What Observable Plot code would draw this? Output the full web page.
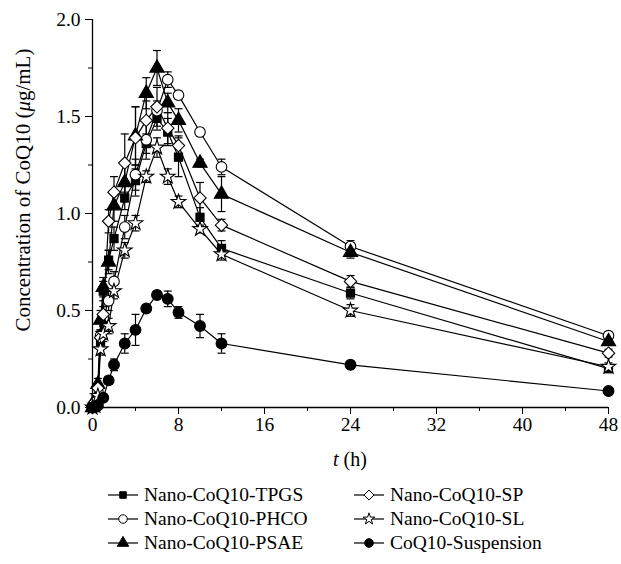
<!DOCTYPE html>
<html>
<head>
<meta charset="utf-8">
<script src="https://cdn.jsdelivr.net/npm/d3@7"></script>
<script src="https://cdn.jsdelivr.net/npm/@observablehq/plot@0.6"></script>
<style>
  body { margin: 0; background: white; }
  #wrap { width: 621px; font-family: "Liberation Serif", serif; color: black; }
  #legend { position: relative; width: 621px; height: 92px; font-size: 19.5px; }
  .item { position: absolute; display: flex; align-items: center; white-space: nowrap; }
  .item svg { margin-right: 6px; }
</style>
</head>
<body>
<div id="wrap"><div id="chart"></div><div id="legend"></div></div>
<script>
// ---- data ----
const timesNano = [0, 0.25, 0.5, 0.75, 1, 1.5, 2, 3, 4, 5, 6, 7, 8, 10, 12, 24, 48];
const timesSusp = [0, 0.25, 0.5, 1, 1.5, 2, 3, 4, 5, 6, 7, 8, 10, 12, 24, 48];

const tpgs   = [0, 0.02, 0.10, 0.34, 0.60, 0.76, 0.87, 1.08, 1.17, 1.36, 1.49, 1.42, 1.29, 0.98, 0.82, 0.59, 0.20];
const tpgsSd = [0, 0.01, 0.02, 0.03, 0.05, 0.05, 0.06, 0.06, 0.08, 0.05, 0.06, 0.07, 0.10, 0.05, 0.04, 0.03, 0.02];
const phco   = [0, 0.02, 0.08, 0.37, 0.46, 0.55, 0.65, 0.93, 1.20, 1.38, 1.53, 1.69, 1.61, 1.42, 1.24, 0.83, 0.37];
const phcoSd = [0, 0.01, 0.02, 0.03, 0.04, 0.05, 0.05, 0.06, 0.08, 0.10, 0.05, 0.04, 0.02, 0.02, 0.04, 0.03, 0.02];
const psae   = [0, 0.04, 0.12, 0.45, 0.62, 0.75, 1.04, 1.16, 1.40, 1.62, 1.75, 1.57, 1.48, 1.26, 1.10, 0.80, 0.34];
const psaeSd = [0, 0.02, 0.03, 0.05, 0.05, 0.06, 0.08, 0.10, 0.15, 0.08, 0.09, 0.05, 0.06, 0.02, 0.09, 0.03, 0.02];
const sp     = [0, 0.03, 0.10, 0.36, 0.48, 0.96, 1.11, 1.26, 1.39, 1.48, 1.55, 1.44, 1.35, 1.08, 0.94, 0.65, 0.28];
const spSd   = [0, 0.01, 0.02, 0.03, 0.04, 0.06, 0.08, 0.15, 0.16, 0.10, 0.10, 0.08, 0.05, 0.08, 0.03, 0.03, 0.02];
const sl     = [0, 0.01, 0.06, 0.30, 0.38, 0.42, 0.60, 0.81, 0.95, 1.19, 1.34, 1.19, 1.06, 0.92, 0.79, 0.50, 0.21];
const slSd   = [0, 0.01, 0.02, 0.03, 0.04, 0.04, 0.04, 0.04, 0.04, 0.03, 0.05, 0.04, 0.03, 0.02, 0.03, 0.03, 0.02];
const susp   = [0, 0.005, 0.01, 0.05, 0.14, 0.22, 0.33, 0.40, 0.51, 0.58, 0.56, 0.49, 0.42, 0.33, 0.22, 0.085];
const suspSd = [0, 0.003, 0.005, 0.01, 0.02, 0.03, 0.05, 0.08, 0.02, 0.02, 0.04, 0.03, 0.06, 0.05, 0.01, 0.01];

const seriesNames = ["Nano-CoQ10-TPGS", "Nano-CoQ10-PHCO", "Nano-CoQ10-PSAE", "Nano-CoQ10-SP", "Nano-CoQ10-SL", "CoQ10-Suspension"];
const xMajor = [0, 8, 16, 24, 32, 40, 48];
const xMinor = [4, 12, 20, 28, 36, 44];
const yMajor = [0, 0.5, 1.0, 1.5, 2.0];
const yMinor = [0.25, 0.75, 1.25, 1.75];

// ---- build table ----
const seriesDefs = [
  {name: seriesNames[0], t: timesNano, v: tpgs, sd: tpgsSd, symbol: d3.symbolSquare, fill: "black", r: 4.6},
  {name: seriesNames[1], t: timesNano, v: phco, sd: phcoSd, symbol: d3.symbolCircle, fill: "white", r: 5.3},
  {name: seriesNames[2], t: timesNano, v: psae, sd: psaeSd, symbol: d3.symbolTriangle, fill: "black", r: 5.3},
  {name: seriesNames[3], t: timesNano, v: sp, sd: spSd, symbol: d3.symbolDiamond2, fill: "white", r: 5.6},
  {name: seriesNames[4], t: timesNano, v: sl, sd: slSd, symbol: d3.symbolStar, fill: "white", r: 4.6},
  {name: seriesNames[5], t: timesSusp, v: susp, sd: suspSd, symbol: d3.symbolCircle, fill: "black", r: 5.4}
];
const rows = seriesDefs.flatMap(s => s.t.map((t, i) => ({series: s.name, t, v: s.v[i], sd: s.sd[i]})));
const errRows = rows.filter(d => d.sd > 0);
const capRows = errRows.flatMap(d => [{t: d.t, y: d.v + d.sd}, {t: d.t, y: Math.max(0, d.v - d.sd)}]);

const cap = {draw(ctx) { ctx.moveTo(-4, 0); ctx.lineTo(4, 0); }};

const chart = Plot.plot({
  width: 621,
  height: 472,
  marginLeft: 92,
  marginRight: 13,
  marginTop: 19,
  marginBottom: 65,
  x: {domain: [0, 48]},
  y: {domain: [0, 2]},
  style: {fontFamily: "Liberation Serif", fontSize: "19.5px", color: "black", background: "white", overflow: "visible"},
  marks: [
    Plot.axisY({ticks: yMajor, tickSize: 7, tickPadding: 5, tickFormat: d3.format(".1f"), label: null}),
    Plot.axisY({ticks: yMinor, tickSize: 4, tickFormat: () => "", label: null}),
    Plot.axisX({ticks: xMajor, tickSize: 7, tickPadding: 3, label: null}),
    Plot.axisX({ticks: xMinor, tickSize: 4, tickFormat: () => "", label: null}),
    Plot.ruleX([0], {stroke: "black", strokeWidth: 1.3}),
    Plot.ruleY([0], {stroke: "black", strokeWidth: 1.3}),
    Plot.line(rows, {x: "t", y: "v", z: "series", stroke: "black", strokeWidth: 1.2}),
    Plot.ruleX(errRows, {x: "t", y1: d => Math.max(0, d.v - d.sd), y2: d => d.v + d.sd, stroke: "black", strokeWidth: 1.2}),
    Plot.dot(capRows, {x: "t", y: "y", symbol: cap, fill: "none", stroke: "black", strokeWidth: 1.2}),
    ...seriesDefs.map(s => Plot.dot(rows.filter(d => d.series === s.name), {
      x: "t", y: "v", symbol: s.symbol, r: s.r, fill: s.fill, stroke: "black", strokeWidth: 1.1
    }))
  ]
});
document.getElementById("chart").appendChild(chart);

// axis titles with italic parts
const svg = d3.select(chart);
const yl = svg.append("text")
  .attr("transform", "translate(30,190) rotate(-90)")
  .attr("text-anchor", "middle")
  .attr("font-size", 21)
  .attr("fill", "black");
yl.append("tspan").text("Concentration of CoQ10 (");
yl.append("tspan").attr("font-style", "italic").text("μ");
yl.append("tspan").text("g/mL)");
const xl = svg.append("text")
  .attr("x", 350).attr("y", 466)
  .attr("text-anchor", "middle")
  .attr("font-size", 20)
  .attr("fill", "black");
xl.append("tspan").attr("font-style", "italic").text("t");
xl.append("tspan").text(" (h)");

// ---- legend ----
const legend = d3.select("#legend");
const pos = [[108, 12], [108, 36], [108, 60], [354, 12], [354, 36], [354, 60]];
seriesDefs.forEach((s, i) => {
  const it = legend.append("div").attr("class", "item")
    .style("left", pos[i][0] + "px").style("top", pos[i][1] + "px");
  const sv = it.append("svg").attr("width", 30).attr("height", 14);
  sv.append("line").attr("x1", 0).attr("x2", 30).attr("y1", 7).attr("y2", 7).attr("stroke", "black").attr("stroke-width", 1.2);
  const area = Math.PI * (s.r * 0.8) ** 2;
  sv.append("path").attr("d", d3.symbol(s.symbol, area)()).attr("transform", "translate(15,7)")
    .attr("fill", s.fill).attr("stroke", "black").attr("stroke-width", 1);
  it.append("span").text(s.name);
});
</script>
</body>
</html>
